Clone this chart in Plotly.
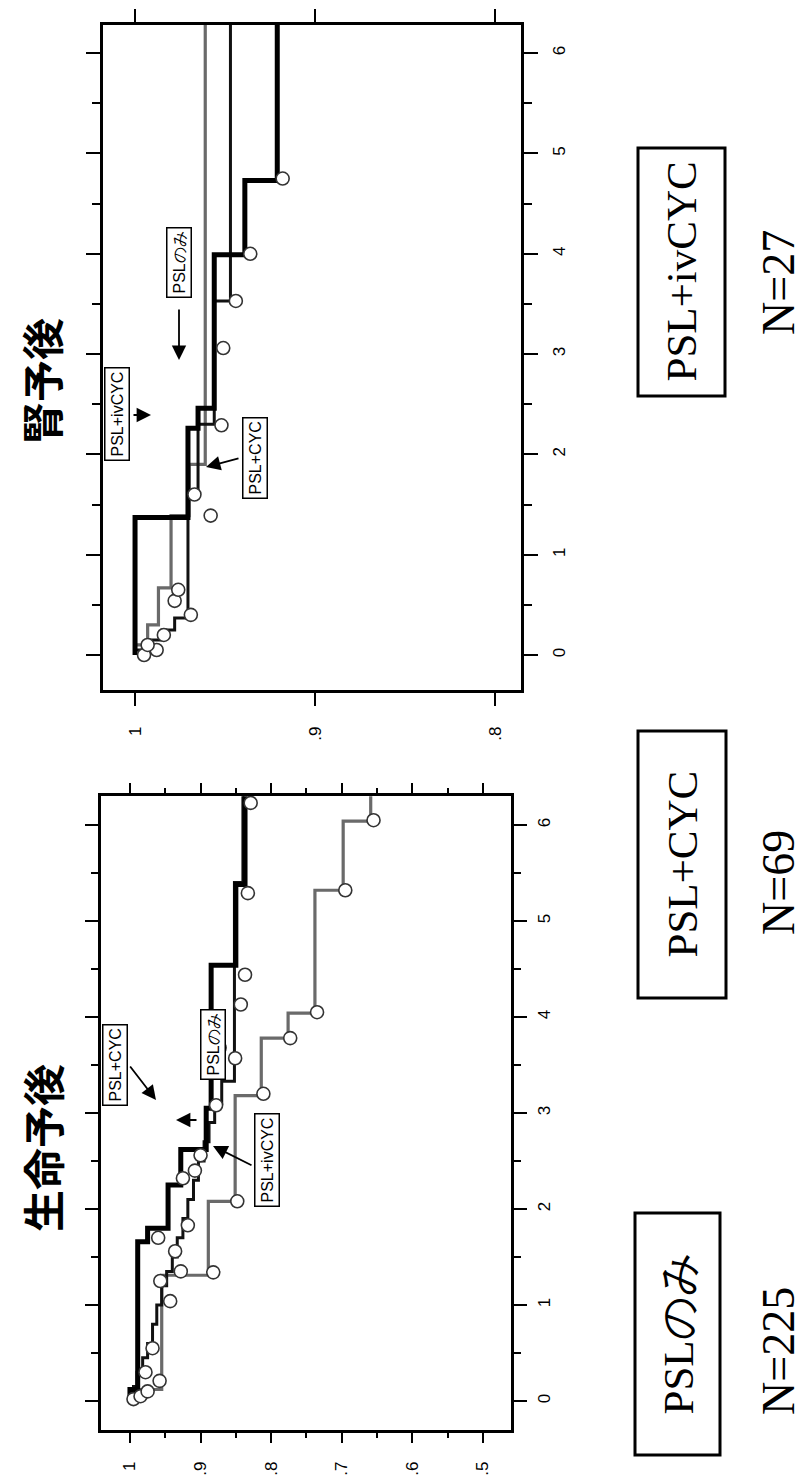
import plotly.graph_objects as go

W, H = 804, 1483

# ---------------- data ----------------
# 生命予後 (overall survival): time (years) at which each level starts, survival proportion
os_ivcyc_t = [0, 0.12, 1.31, 2.08, 3.18, 3.78, 4.04, 5.32, 6.04, 6.3]
os_ivcyc_s = [1.0, 0.955, 0.889, 0.851, 0.814, 0.776, 0.738, 0.698, 0.659, 0.659]
os_psl_t = [0, 0.05, 0.15, 0.3, 0.45, 0.6, 0.8, 1.0, 1.2, 1.35, 1.5, 1.7, 1.9, 2.1,
            2.3, 2.5, 2.7, 2.9, 3.1, 3.33, 5.4, 6.3]
os_psl_s = [1.0, 0.995, 0.99, 0.982, 0.975, 0.968, 0.962, 0.955, 0.948, 0.94, 0.933,
            0.925, 0.918, 0.91, 0.903, 0.895, 0.888, 0.88, 0.87, 0.852, 0.84, 0.84]
os_cyc_t = [0, 0.12, 1.66, 1.8, 2.25, 2.62, 3.05, 4.54, 5.38, 6.3]
os_cyc_s = [1.0, 0.989, 0.975, 0.946, 0.928, 0.892, 0.885, 0.85, 0.837, 0.837]
# censoring marks
os_cens_t = [0.02, 0.05, 0.1, 0.21, 0.3, 0.55, 1.04, 1.25, 1.35, 1.56, 1.7, 1.83, 2.32,
             2.4, 2.56, 3.08, 3.57, 3.68, 4.13, 4.44, 5.29, 6.23,
             1.34, 2.08, 3.2, 3.78, 4.05, 5.32, 6.05]
os_cens_s = [0.995, 0.985, 0.975, 0.958, 0.978, 0.968, 0.943, 0.957, 0.928, 0.936, 0.96,
             0.918, 0.925, 0.908, 0.9, 0.878, 0.851, 0.873, 0.843, 0.837, 0.833, 0.829,
             0.882, 0.848, 0.811, 0.773, 0.735, 0.695, 0.655]

# 腎予後 (renal survival)
rn_ivcyc_t = [0, 0.1, 0.3, 0.67, 1.39, 1.9, 6.28]
rn_ivcyc_s = [1.0, 0.993, 0.987, 0.98, 0.97, 0.961, 0.961]
rn_psl_t = [0, 0.05, 0.15, 0.25, 0.37, 1.6, 2.3, 3.53, 6.28]
rn_psl_s = [1.0, 0.992, 0.985, 0.978, 0.9706, 0.965, 0.956, 0.947, 0.947]
rn_cyc_t = [0, 1.37, 2.26, 2.46, 3.99, 4.73, 6.28]
rn_cyc_s = [1.0, 0.9706, 0.965, 0.956, 0.939, 0.921, 0.921]
rn_cens_t = [0.0, 0.05, 0.1, 0.2, 0.4, 0.54, 0.65, 1.39, 1.6, 2.29, 3.06, 3.53, 4.0, 4.75]
rn_cens_s = [0.995, 0.988, 0.993, 0.984, 0.969, 0.978, 0.976, 0.958, 0.967, 0.952,
             0.951, 0.944, 0.936, 0.918]

os_ticks = [1.0, 0.9, 0.8, 0.7, 0.6, 0.5]
os_ticktext = ["1", ".9", ".8", ".7", ".6", ".5"]
rn_ticks = [1.0, 0.9, 0.8]
rn_ticktext = ["1", ".9", ".8"]
year_ticks = [0, 1, 2, 3, 4, 5, 6]

groups = ["PSLのみ", "PSL+CYC", "PSL+ivCYC"]
group_n = ["N=225", "N=69", "N=27"]
titles = ["生命予後", "腎予後"]

# ---------------- helpers (layout only) ----------------
def px(x):
    return x / W


def py(y):
    return 1 - y / H


fig = go.Figure()


def curve(t, s, xa, ya, color, width):
    fig.add_trace(go.Scatter(x=s, y=t, mode="lines", xaxis=xa, yaxis=ya,
                             line=dict(color=color, width=width, shape="vh"),
                             showlegend=False, hoverinfo="skip"))


def cens(t, s, xa, ya):
    fig.add_trace(go.Scatter(x=s, y=t, mode="markers", xaxis=xa, yaxis=ya,
                             marker=dict(symbol="circle", size=13, color="white",
                                         line=dict(color="#333", width=1.6)),
                             showlegend=False, hoverinfo="skip"))


# bottom panel (生命予後)
curve(os_ivcyc_t, os_ivcyc_s, "x", "y", "#6a6a6a", 3.2)
curve(os_psl_t, os_psl_s, "x", "y", "#111111", 3)
curve(os_cyc_t, os_cyc_s, "x", "y", "#000000", 5)
cens(os_cens_t, os_cens_s, "x", "y")
# top panel (腎予後)
curve(rn_ivcyc_t, rn_ivcyc_s, "x2", "y2", "#6a6a6a", 3.2)
curve(rn_psl_t, rn_psl_s, "x2", "y2", "#111111", 3)
curve(rn_cyc_t, rn_cyc_s, "x2", "y2", "#000000", 5)
cens(rn_cens_t, rn_cens_s, "x2", "y2")

tickfont = dict(family="Liberation Sans, Arial", size=17, color="black")
common = dict(showgrid=False, zeroline=False, showline=True, linecolor="black",
              linewidth=2.5, mirror="ticks", ticks="outside", tickwidth=2,
              tickcolor="black", tickangle=-90, tickfont=tickfont)

fig.update_layout(
    width=W, height=H, margin=dict(l=0, r=0, t=0, b=0),
    paper_bgcolor="white", plot_bgcolor="white",
    xaxis=dict(domain=[px(93), px(503)], range=[1.041, 0.4603], anchor="y",
               tickvals=os_ticks, ticktext=os_ticktext, ticklen=10,
               ticklabelstandoff=12,
               minor=dict(tickvals=[0.95, 0.85, 0.75, 0.65, 0.55], ticklen=5,
                          tickwidth=2, ticks="outside", tickcolor="black"),
               **common),
    yaxis=dict(domain=[py(1422), py(788)], range=[-0.302, 6.302], anchor="x",
               side="right", tickvals=year_ticks, ticklen=13, ticklabelstandoff=3,
               minor=dict(dtick=0.5, ticklen=7, tickwidth=2, ticks="outside",
                          tickcolor="black"),
               **common),
    xaxis2=dict(domain=[px(95), px(513)], range=[1.0178, 0.7856], anchor="y2",
                tickvals=rn_ticks, ticktext=rn_ticktext, ticklen=13,
                ticklabelstandoff=14, **common),
    yaxis2=dict(domain=[py(682), py(17)], range=[-0.349, 6.281], anchor="x2",
                side="right", tickvals=year_ticks, ticklen=14, ticklabelstandoff=7,
                minor=dict(dtick=0.5, ticklen=8, tickwidth=2, ticks="outside",
                           tickcolor="black"),
                **common),
)

ann = []


def text(t, cx, cy, font, **kw):
    d = dict(text=t, x=px(cx), y=py(cy), xref="paper", yref="paper", showarrow=False,
             textangle=-90, xanchor="center", yanchor="middle", font=font)
    d.update(kw)
    ann.append(d)


# titles
title_font = dict(family="Noto Sans CJK JP", size=42, color="black")
text("<b>" + titles[0] + "</b>", 33, 1140, title_font)
text("<b>" + titles[1] + "</b>", 33, 373, title_font)

# bottom big group boxes
boxes = [(627, 712, 1205, 1447), (630, 718, 723, 990), (630, 717, 140, 388)]
ncent = [(770, 1343), (770, 875), (770, 275)]
serif_box = dict(family="Liberation Serif, Times New Roman", size=43, color="black")
serif_n = dict(family="Liberation Serif, Times New Roman", size=46, color="black")
shapes = []
for (x0, x1, y0, y1), g, n, (nx, ny) in zip(boxes, groups, group_n, ncent):
    shapes.append(dict(type="rect", xref="paper", yref="paper", x0=px(x0), x1=px(x1),
                       y0=py(y1), y1=py(y0), line=dict(color="black", width=3)))
    text(g, (x0 + x1) / 2, (y0 + y1) / 2, serif_box)
    text(n, nx, ny, serif_n)

# small in-plot labels
small = [("PSL+CYC", 107, 1057), ("PSLのみ", 205, 1036), ("PSL+ivCYC", 259, 1152),
         ("PSL+ivCYC", 109, 406), ("PSLのみ", 171, 255), ("PSL+CYC", 247, 450)]
sans_small = dict(family="Liberation Sans, Arial", size=16, color="black")
for txt, cx, cy in small:
    text(txt, cx, cy, sans_small, bgcolor="white", bordercolor="black",
         borderwidth=1.5, borderpad=3)

arrows = [((121, 1057), (148, 1092)), ((190, 1112), (168, 1112)),
          ((245, 1158), (205, 1138)), ((124, 407), (143, 407)),
          ((171, 300), (171, 352)), ((232, 450), (198, 459))]
for (tx, ty), (hx, hy) in arrows:
    ann.append(dict(text="", x=px(hx), y=py(hy), xref="paper", yref="paper",
                    showarrow=True, ax=tx - hx, ay=ty - hy, arrowhead=2,
                    arrowsize=1.6, arrowwidth=1.8, arrowcolor="black"))

fig.update_layout(annotations=ann, shapes=shapes)
fig.write_html("out.html")
